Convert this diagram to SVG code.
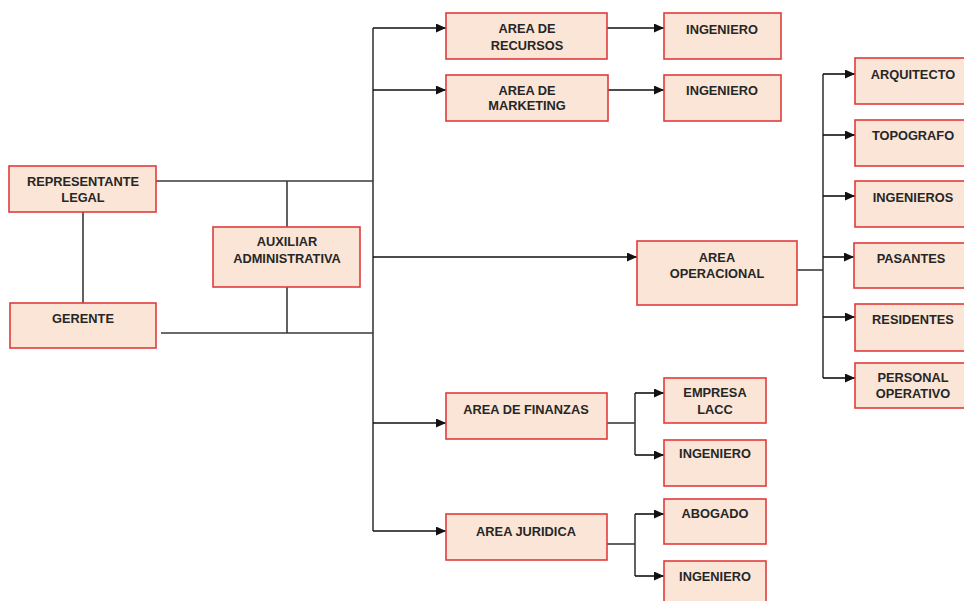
<svg xmlns="http://www.w3.org/2000/svg" width="964" height="601" viewBox="0 0 964 601">
<style>
.box{fill:#fbe5d6;stroke:#e03c3c;stroke-width:1.6}
.t{font-family:"Liberation Sans",Arial,sans-serif;font-weight:bold;font-size:12.8px;fill:#262626;text-anchor:middle}
.ln{fill:none;stroke:#3a3a3a;stroke-width:1.6}
.ar{fill:none;stroke:#111;stroke-width:1.6;marker-end:url(#ah)}
</style>
<defs>
<marker id="ah" markerUnits="userSpaceOnUse" markerWidth="11" markerHeight="9" refX="10" refY="4.5" orient="auto">
<path d="M0,0 L10,4.5 L0,9 z" fill="#111"/>
</marker>
</defs>
<rect width="964" height="601" fill="#fff"/>
<g id="connectors">
<path class="ln" d="M83,212 V303"/>
<path class="ln" d="M156,181 H373"/>
<path class="ln" d="M287,181 V227"/>
<path class="ln" d="M161,333 H373"/>
<path class="ln" d="M287,287 V333"/>
<path class="ln" d="M373,28 V531"/>
<path class="ar" d="M373,28 H446"/>
<path class="ar" d="M373,90 H446"/>
<path class="ar" d="M373,257 H637"/>
<path class="ar" d="M373,423 H446"/>
<path class="ar" d="M373,531 H446"/>
<path class="ar" d="M607,28 H664"/>
<path class="ar" d="M608,90 H664"/>
<path class="ln" d="M797,270 H823"/>
<path class="ln" d="M823,74 V378"/>
<path class="ar" d="M823,74 H855"/>
<path class="ar" d="M823,135 H855"/>
<path class="ar" d="M823,196 H855"/>
<path class="ar" d="M823,257 H854"/>
<path class="ar" d="M823,317 H855"/>
<path class="ar" d="M823,378 H855"/>
<path class="ln" d="M607,423 H635"/>
<path class="ln" d="M635,393 V455"/>
<path class="ar" d="M635,393 H664"/>
<path class="ar" d="M635,455 H664"/>
<path class="ln" d="M607,544 H635"/>
<path class="ln" d="M635,514 V576"/>
<path class="ar" d="M635,514 H664"/>
<path class="ar" d="M635,576 H664"/>
</g>
<g id="representante"><rect class="box" x="9" y="166" width="147" height="46"/><text class="t" x="83" y="186">REPRESENTANTE</text><text class="t" x="83" y="202">LEGAL</text></g>
<g id="gerente"><rect class="box" x="10" y="303" width="146" height="45"/><text class="t" x="83" y="323">GERENTE</text></g>
<g id="auxiliar"><rect class="box" x="213" y="227" width="147" height="60"/><text class="t" x="287" y="246">AUXILIAR</text><text class="t" x="287" y="263">ADMINISTRATIVA</text></g>
<g id="recursos"><rect class="box" x="446" y="13" width="161" height="46"/><text class="t" x="527" y="33">AREA DE</text><text class="t" x="527" y="50">RECURSOS</text></g>
<g id="ing1"><rect class="box" x="664" y="13" width="117" height="46"/><text class="t" x="722" y="34">INGENIERO</text></g>
<g id="marketing"><rect class="box" x="446" y="75" width="162" height="46"/><text class="t" x="527" y="95">AREA DE</text><text class="t" x="527" y="110">MARKETING</text></g>
<g id="ing2"><rect class="box" x="664" y="75" width="117" height="46"/><text class="t" x="722" y="95">INGENIERO</text></g>
<g id="operacional"><rect class="box" x="637" y="241" width="160" height="64"/><text class="t" x="717" y="262">AREA</text><text class="t" x="717" y="278">OPERACIONAL</text></g>
<g id="arquitecto"><rect class="box" x="855" y="58" width="116" height="46"/><text class="t" x="913" y="79">ARQUITECTO</text></g>
<g id="topografo"><rect class="box" x="855" y="120" width="116" height="46"/><text class="t" x="913" y="140">TOPOGRAFO</text></g>
<g id="ingenieros"><rect class="box" x="855" y="181" width="116" height="46"/><text class="t" x="913" y="202">INGENIEROS</text></g>
<g id="pasantes"><rect class="box" x="854" y="243" width="117" height="45"/><text class="t" x="911" y="263">PASANTES</text></g>
<g id="residentes"><rect class="box" x="855" y="304" width="116" height="47"/><text class="t" x="913" y="324">RESIDENTES</text></g>
<g id="personal"><rect class="box" x="855" y="363" width="116" height="45"/><text class="t" x="913" y="382">PERSONAL</text><text class="t" x="913" y="398">OPERATIVO</text></g>
<g id="finanzas"><rect class="box" x="446" y="393" width="161" height="46"/><text class="t" x="526" y="414">AREA DE FINANZAS</text></g>
<g id="empresa"><rect class="box" x="664" y="378" width="102" height="45"/><text class="t" x="715" y="397">EMPRESA</text><text class="t" x="715" y="414">LACC</text></g>
<g id="ing3"><rect class="box" x="664" y="440" width="102" height="46"/><text class="t" x="715" y="458">INGENIERO</text></g>
<g id="juridica"><rect class="box" x="446" y="514" width="161" height="46"/><text class="t" x="526" y="536">AREA JURIDICA</text></g>
<g id="abogado"><rect class="box" x="664" y="499" width="102" height="45"/><text class="t" x="715" y="518">ABOGADO</text></g>
<g id="ing4"><rect class="box" x="664" y="561" width="102" height="46"/><text class="t" x="715" y="581">INGENIERO</text></g>
</svg>
